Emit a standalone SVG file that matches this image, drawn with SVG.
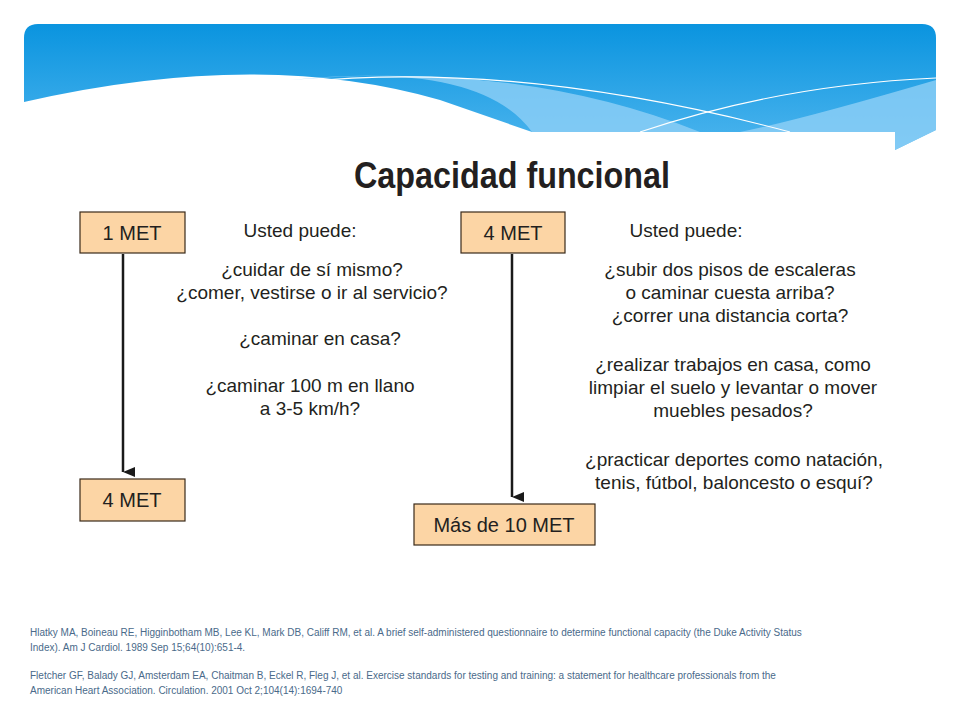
<svg xmlns="http://www.w3.org/2000/svg" width="960" height="720" viewBox="0 0 960 720">
<defs>
<linearGradient id="bg" x1="0" y1="0" x2="0" y2="1"><stop offset="0" stop-color="#0a94df"/><stop offset="1" stop-color="#4db5ee"/></linearGradient>
<marker id="ah" markerWidth="10" markerHeight="12" refX="5" refY="12" orient="auto" markerUnits="userSpaceOnUse" viewBox="0 0 10 12"><path d="M0,0 L10,0 L5,12 Z" fill="#1a1a1a"/></marker>
<style>
.box{fill:#fcd5a5;stroke:#3a2a1a;stroke-width:1.2}
.bt{font-family:"Liberation Sans",Arial,sans-serif;font-size:20px;fill:#231f20;text-anchor:middle}
.q{font-family:"Liberation Sans",Arial,sans-serif;font-size:19px;fill:#231f20;text-anchor:middle}
.ref{font-family:"Liberation Sans",Arial,sans-serif;font-size:10px;fill:#4a6a8a}
.ln{stroke:#1a1a1a;stroke-width:2.5;fill:none}
</style>
</defs>
<rect width="960" height="720" fill="#fff"/>
<g id="header">
<path d="M24,38 Q24,24 38,24 L922,24 Q936,24 936,38 L936,130 L895,150 L895,132 L532,132 L440,100 Q260,48 24,102 Z" fill="url(#bg)"/>
<path d="M290,80 Q480,60 532,132 L895,132 L895,150 L936,130 L936,80 Q800,120 740,132 L700,132 Q520,60 290,80 Z" fill="#8fd0f6" opacity="0.8"/>
<path d="M300,82 Q520,60 790,132" stroke="#fff" stroke-width="1.2" fill="none"/>
<path d="M640,132 Q780,85 936,78" stroke="#fff" stroke-width="1.2" fill="none"/>
</g>
<text x="512" y="188" font-family="'Liberation Sans',Arial,sans-serif" font-weight="bold" font-size="36" fill="#231f20" text-anchor="middle" textLength="316" lengthAdjust="spacingAndGlyphs">Capacidad funcional</text>
<g id="connectors">
<line class="ln" x1="123" y1="254" x2="123" y2="472" marker-end="url(#ah)"/>
<line class="ln" x1="512" y1="254" x2="512" y2="497" marker-end="url(#ah)"/>
</g>
<g id="n1met"><rect class="box" x="80" y="212" width="105" height="41"/><text class="bt" x="132" y="240">1 MET</text></g>
<g id="n4metb"><rect class="box" x="80" y="479" width="105" height="42"/><text class="bt" x="132" y="507">4 MET</text></g>
<g id="n4met"><rect class="box" x="461" y="212" width="104" height="41"/><text class="bt" x="513" y="240">4 MET</text></g>
<g id="n10met"><rect class="box" x="414" y="504" width="181" height="41"/><text class="bt" x="504" y="532">Más de 10 MET</text></g>
<g id="left">
<text class="q" x="300" y="237">Usted puede:</text>
<text class="q" x="312" y="276">¿cuidar de sí mismo?</text>
<text class="q" x="312" y="299">¿comer, vestirse o ir al servicio?</text>
<text class="q" x="320" y="345">¿caminar en casa?</text>
<text class="q" x="310" y="392">¿caminar 100 m en llano</text>
<text class="q" x="310" y="415">a 3-5 km/h?</text>
</g>
<g id="right">
<text class="q" x="686" y="237">Usted puede:</text>
<text class="q" x="730" y="276">¿subir dos pisos de escaleras</text>
<text class="q" x="730" y="299">o caminar cuesta arriba?</text>
<text class="q" x="730" y="322">¿correr una distancia corta?</text>
<text class="q" x="733" y="371">¿realizar trabajos en casa, como</text>
<text class="q" x="733" y="394">limpiar el suelo y levantar o mover</text>
<text class="q" x="733" y="417">muebles pesados?</text>
<text class="q" x="734" y="466">¿practicar deportes como natación,</text>
<text class="q" x="734" y="489">tenis, fútbol, baloncesto o esquí?</text>
</g>
<g id="refs">
<text class="ref" x="30" y="636">Hlatky MA, Boineau RE, Higginbotham MB, Lee KL, Mark DB, Califf RM, et al. A brief self-administered questionnaire to determine functional capacity (the Duke Activity Status</text>
<text class="ref" x="30" y="651">Index). Am J Cardiol. 1989 Sep 15;64(10):651-4.</text>
<text class="ref" x="30" y="679">Fletcher GF, Balady GJ, Amsterdam EA, Chaitman B, Eckel R, Fleg J, et al. Exercise standards for testing and training: a statement for healthcare professionals from the</text>
<text class="ref" x="30" y="694">American Heart Association. Circulation. 2001 Oct 2;104(14):1694-740</text>
</g>
</svg>
